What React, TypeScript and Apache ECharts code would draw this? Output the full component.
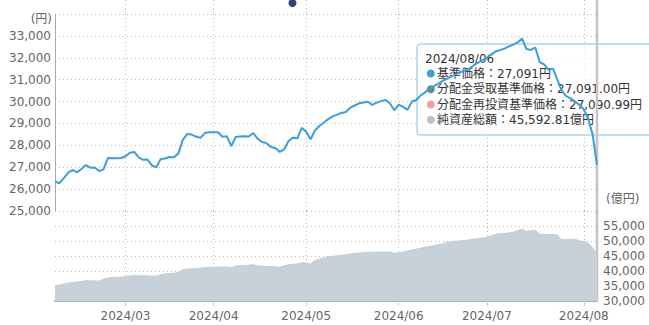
import React, { useEffect, useRef } from "react";
import * as echarts from "echarts";

// Japanese market holidays inside the period (business-day category axis)
const HOLIDAYS = ["2024-02-12", "2024-02-23", "2024-03-20", "2024-04-29", "2024-05-03", "2024-05-06", "2024-07-15"];
const START_DATE = "2024-02-06";
const END_DATE = "2024-08-06";

function businessDays(start: string, end: string): string[] {
  const out: string[] = [];
  const d = new Date(start + "T00:00:00Z");
  const e = new Date(end + "T00:00:00Z");
  while (d.getTime() <= e.getTime()) {
    const wd = d.getUTCDay();
    const iso = d.toISOString().slice(0, 10);
    if (wd !== 0 && wd !== 6 && HOLIDAYS.indexOf(iso) < 0) out.push(iso.replace(/-/g, "/"));
    d.setUTCDate(d.getUTCDate() + 1);
  }
  return out;
}

const dates = businessDays(START_DATE, END_DATE);

// 基準価格 (円)
const navValues = [
  26350, 26270, 26500, 26750, 26880, 26770, 26920, 27100, 26980, 26990,
  26830, 26900, 27420, 27410, 27410, 27420, 27500, 27660, 27700, 27450,
  27340, 27350, 27080, 27000, 27380, 27400, 27470, 27460, 27620, 28250,
  28520, 28490, 28400, 28340, 28560, 28600, 28600, 28600, 28390, 28410,
  27960, 28380, 28400, 28410, 28400, 28560, 28300, 28150, 28100, 27920,
  27880, 27700, 27820, 28200, 28350, 28320, 28800, 28620, 28280, 28680,
  28880, 29030, 29200, 29320, 29400, 29480, 29520, 29720, 29820, 29920,
  29960, 29990, 29850, 29950, 30020, 30070, 29920, 29600, 29860, 29760,
  29620, 30000, 30070, 30280, 30420, 30600, 30700, 30820, 30950, 31050,
  31150, 31250, 31350, 31420, 31500, 31650, 31780, 31880, 32000, 32150,
  32290, 32350, 32420, 32520, 32600, 32700, 32880, 32400, 32360, 32470,
  31800, 31700, 31450, 31500, 31000, 30500, 30250, 30150, 30000, 29850,
  29650, 29200, 28500, 27091,
];

// 純資産総額 (億円)
const netAssets = [
  35000, 35300, 35650, 35950, 36220, 36310, 36550, 36770, 36740, 36700,
  36670, 37240, 37700, 37800, 37880, 37950, 38080, 38300, 38540, 38380,
  38370, 38430, 38240, 38300, 38780, 39050, 39150, 39250, 39600, 40400,
  40630, 40720, 40820, 40950, 41100, 41170, 41230, 41280, 41320, 41300,
  41100, 41650, 41750, 41850, 41950, 42100, 41750, 41600, 41520, 41460,
  41350, 41230, 41800, 42060, 42200, 42350, 42800, 42650, 42350, 43500,
  43950, 44350, 44700, 44880, 45050, 45250, 45450, 45650, 45900, 46000,
  46120, 46220, 46250, 46280, 46300, 46320, 46300, 45920, 46050, 46300,
  46650, 47000, 47300, 47550, 47900, 48200, 48500, 48800, 49050, 49450,
  49800, 49950, 50060, 50180, 50350, 50650, 50800, 51000, 51180, 51650,
  52240, 52400, 52550, 52650, 52950, 53500, 53950, 53250, 53400, 53550,
  52220, 52180, 52150, 52120, 52000, 50400, 50380, 50600, 50550, 50070,
  49850, 49200, 47800, 45592.81,
];

// tooltip extra values
const receivedNav = 27091.0; // 分配金受取基準価格
const reinvestedNav = 27090.99; // 分配金再投資基準価格

const tooltipLabels = ["基準価格", "分配金受取基準価格", "分配金再投資基準価格", "純資産総額"];
const tooltipColors = ["#3a9fdb", "#6d8a79", "#f0a0a6", "#b5c3cd"];

const leftAxisMin = 25000;
const leftAxisMax = 34000;
const leftAxisInterval = 1000;
const rightAxisMin = 30000;
const rightAxisMax = 60000;
const rightAxisInterval = 5000;

const FONT = '"DejaVu Sans", "Noto Sans CJK JP", sans-serif';

const fmt = (v: number, d = 0) =>
  v.toLocaleString("en-US", { minimumFractionDigits: d, maximumFractionDigits: d });

const isMonthStart = (i: number) => i > 0 && dates[i].slice(0, 7) !== dates[i - 1].slice(0, 7);

export default function App() {
  const ref = useRef<HTMLDivElement>(null);
  useEffect(() => {
    if (!ref.current) return;
    const chart = echarts.init(ref.current, null, { renderer: "svg" });
    const dotted = { type: [1, 3] as any, color: "#bbb", width: 1 };
    const baseX = {
      type: "category" as const,
      data: dates,
      boundaryGap: false,
      axisLine: { show: false },
      axisTick: { show: false },
      axisLabel: { show: false },
      splitLine: { show: true, interval: (i: number) => isMonthStart(i), lineStyle: dotted },
    };
    chart.setOption({
      animation: false,
      textStyle: { fontFamily: FONT },
      grid: [
        { left: 55, right: 52, top: 14, height: 197 },
        { left: 55, right: 52, top: 211, height: 90 },
        { left: 55, right: 52, top: 0, height: 14 },
      ],
      xAxis: [
        { ...baseX, gridIndex: 0 },
        {
          ...baseX,
          gridIndex: 1,
          axisLine: { show: true, lineStyle: { color: "#b0b0b0", width: 2 } },
          axisTick: { show: true, interval: (i: number) => isMonthStart(i), length: 5, lineStyle: { color: "#bcd0e2" } },
          axisLabel: {
            show: true,
            interval: (i: number) => isMonthStart(i),
            formatter: (v: string) => v.slice(0, 7),
            color: "#666",
            fontSize: 12,
            margin: 9,
            fontFamily: FONT,
          },
        },
        { ...baseX, gridIndex: 2 },
      ],
      yAxis: [
        {
          gridIndex: 0,
          type: "value",
          min: leftAxisMin,
          max: leftAxisMax,
          interval: leftAxisInterval,
          axisLine: { show: true, lineStyle: { color: "#aaa", width: 1 } },
          axisTick: { show: false },
          axisLabel: { color: "#666", fontSize: 12, margin: 4, showMaxLabel: false, formatter: (v: number) => fmt(v), fontFamily: FONT },
          splitLine: { show: true, lineStyle: dotted },
        },
        {
          gridIndex: 1,
          type: "value",
          position: "right",
          min: rightAxisMin,
          max: rightAxisMax,
          interval: rightAxisInterval,
          axisLine: { show: true, lineStyle: { color: "#ccc" } },
          axisTick: { show: false },
          axisLabel: { color: "#666", fontSize: 12, margin: 6, showMaxLabel: false, formatter: (v: number) => fmt(v), fontFamily: FONT },
          splitLine: { show: true, lineStyle: dotted },
        },
        { gridIndex: 2, type: "value", min: 0, max: 1, show: false },
      ],
      series: [
        {
          type: "line",
          name: "純資産総額",
          xAxisIndex: 1,
          yAxisIndex: 1,
          data: netAssets,
          symbol: "none",
          lineStyle: { color: "#c3cdd4", width: 1 },
          areaStyle: { color: "#c8d1d8", opacity: 1 },
          z: 2,
        },
        {
          type: "line",
          name: "基準価格",
          xAxisIndex: 0,
          yAxisIndex: 0,
          data: navValues,
          symbol: "none",
          lineStyle: { color: "#3a9fdb", width: 2 },
          z: 3,
        },
      ],
    });

    const last = dates.length - 1;
    const px = chart.convertToPixel({ xAxisIndex: 1 }, dates[last]) as number;
    const bottomY = chart.convertToPixel({ yAxisIndex: 1 }, rightAxisMin) as number;

    const rows = [
      `${tooltipLabels[0]}：${fmt(navValues[last])}円`,
      `${tooltipLabels[1]}：${fmt(receivedNav, 2)}円`,
      `${tooltipLabels[2]}：${fmt(reinvestedNav, 2)}円`,
      `${tooltipLabels[3]}：${fmt(netAssets[last], 2)}億円`,
    ];
    const rowY = [29.5, 45.3, 60.5, 75.8];

    chart.setOption({
      graphic: [
        {
          type: "line",
          z: 1,
          shape: { x1: px, y1: 0, x2: px, y2: bottomY },
          style: { stroke: "#c4c4c4", lineWidth: 2.5 },
        },
        {
          type: "text",
          x: 52,
          y: 19,
          style: { text: "(円)", fill: "#666", font: `12px ${FONT}`, textAlign: "right", textVerticalAlign: "middle" },
        },
        {
          type: "text",
          x: 606,
          y: 199,
          style: { text: "(億円)", fill: "#666", font: `12px ${FONT}`, textAlign: "left", textVerticalAlign: "middle" },
        },
        {
          type: "circle",
          shape: { cx: 292.5, cy: 3, r: 4 },
          style: { fill: "#2b4778" },
        },
        {
          type: "group",
          x: 417,
          y: 44,
          z: 100,
          children: [
            {
              type: "rect",
              shape: { x: 0, y: 0, width: 240, height: 91, r: 3 },
              style: { fill: "rgba(255,255,255,0.72)", stroke: "#86bde9", lineWidth: 1 },
            },
            {
              type: "text",
              x: 8,
              y: 14.5,
              style: { text: dates[last], fill: "#333", font: `12px ${FONT}`, textVerticalAlign: "middle" },
            },
            ...rows.flatMap((t, i) => [
              {
                type: "circle",
                shape: { cx: 13.8, cy: rowY[i], r: 4 },
                style: { fill: tooltipColors[i] },
              },
              {
                type: "text",
                x: 20,
                y: rowY[i],
                style: { text: t, fill: "#333", font: `12px ${FONT}`, textVerticalAlign: "middle" },
              },
            ]),
          ],
        },
      ],
    });

    return () => chart.dispose();
  }, []);
  return (
    <div
      ref={ref}
      style={{ position: "fixed", left: 0, top: 0, width: 649, height: 325, background: "#fff" }}
    />
  );
}
